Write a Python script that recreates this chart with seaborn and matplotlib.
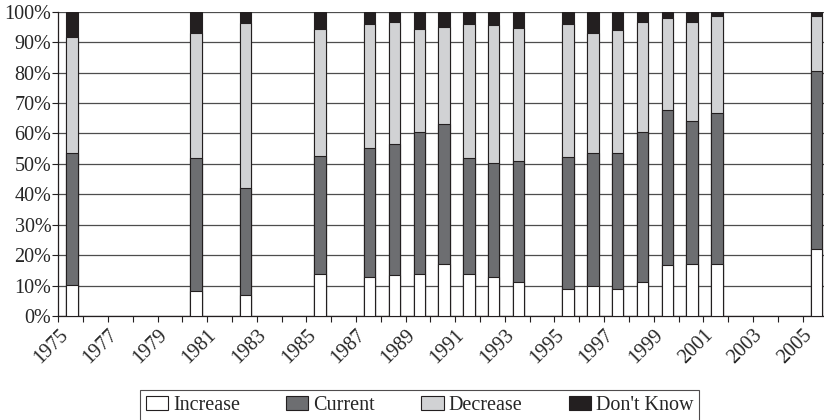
import numpy as np
import pandas as pd
import matplotlib
matplotlib.use('Agg')
import matplotlib.pyplot as plt
import seaborn as sns

# survey years and answer shares (percent)
years = [1975, 1980, 1982, 1985, 1987, 1988, 1989, 1990, 1991, 1992, 1993,
         1995, 1996, 1997, 1998, 1999, 2000, 2001, 2005]
increase = [10.1, 8.2, 6.8, 13.7, 12.9, 13.5, 13.7, 17.0, 13.8, 12.9, 11.1,
            8.8, 10.0, 9.0, 11.1, 16.8, 17.2, 17.1, 21.9]
current = [43.4, 43.6, 35.2, 38.9, 42.2, 42.9, 46.9, 46.0, 38.0, 37.5, 39.9,
           43.6, 43.5, 44.5, 49.4, 50.9, 46.9, 49.5, 58.6]
decrease = [38.3, 41.1, 54.4, 41.6, 40.8, 40.2, 33.6, 32.1, 44.1, 45.3, 43.7,
            43.5, 39.4, 40.5, 36.1, 30.1, 32.5, 32.1, 18.1]
dont_know = [8.2, 7.1, 3.6, 5.8, 4.1, 3.4, 5.8, 4.9, 4.1, 4.3, 5.3,
             4.1, 7.1, 6.0, 3.4, 2.2, 3.4, 1.3, 1.4]

df = pd.DataFrame({'year': years, 'Increase': increase, 'Current': current,
                   'Decrease': decrease, "Don't Know": dont_know})
# bars sit in the middle of each year slot
df['pos'] = df['year'] + 0.55
series = ['Increase', 'Current', 'Decrease', "Don't Know"]
colors = {'Increase': 'white', 'Current': '#6d6e71',
          'Decrease': '#d1d2d4', "Don't Know": '#231f20'}

sns.set_style('white')
plt.rcParams['font.family'] = ['Liberation Serif', 'DejaVu Serif']

fig = plt.figure(figsize=(8.24, 4.2), dpi=100)
ax = fig.add_axes([58.3 / 824, 1 - 316 / 420, 1 - 58.3 / 824, (316 - 11.7) / 420])

# stacked bars: draw cumulative totals from the top down
for i in range(len(series) - 1, -1, -1):
    df['cum'] = df[series[:i + 1]].sum(axis=1)
    sns.barplot(data=df, x='pos', y='cum', native_scale=True, width=0.46,
                color=colors[series[i]], edgecolor='#231f20', linewidth=0.8,
                saturation=1, errorbar=None, label=series[i], ax=ax, zorder=3)

ax.set_xlim(1975, 1975 + (824 - 58.3) / 24.81)
ax.set_ylim(0, 100)
ax.set_yticks(np.arange(0, 101, 10))
ax.set_yticklabels(['%d%%' % v for v in range(0, 101, 10)], fontsize=14.5)
ax.set_xticks(np.arange(1975, 2006), minor=True)
ax.set_xticks(np.arange(1975, 2006, 2))
ax.set_xticklabels([str(y) for y in range(1975, 2006, 2)], rotation=45,
                   ha='right', va='top', rotation_mode='anchor', fontsize=14.5)
ax.tick_params(axis='x', which='both', direction='out', length=4, width=0.8,
               color='#231f20', bottom=True, pad=3)
ax.tick_params(axis='y', direction='out', length=4, width=0.8,
               color='#231f20', left=True, pad=1)
ax.set_xlabel('')
ax.set_ylabel('')
ax.yaxis.grid(True, color='#4d4d4d', linewidth=0.9, zorder=0)
ax.xaxis.grid(False)
for s in ['top', 'right']:
    ax.spines[s].set_visible(False)
for s in ['left', 'bottom']:
    ax.spines[s].set_color('#231f20')
    ax.spines[s].set_linewidth(0.9)
ax.set_axisbelow(True)

handles, labels = ax.get_legend_handles_labels()
ax.legend_ = None
fig.legend(handles[::-1], labels[::-1], loc='center', ncol=4,
           bbox_to_anchor=(419.5 / 824, 1 - 405.3 / 420), fontsize=14.5,
           frameon=True, fancybox=False, edgecolor='#231f20',
           handlelength=1.1, handleheight=0.75, handletextpad=0.25,
           columnspacing=2.3, borderpad=0.3, borderaxespad=0)
fig.legends[0].get_frame().set_linewidth(0.8)

fig.savefig('out.png', dpi=100)
